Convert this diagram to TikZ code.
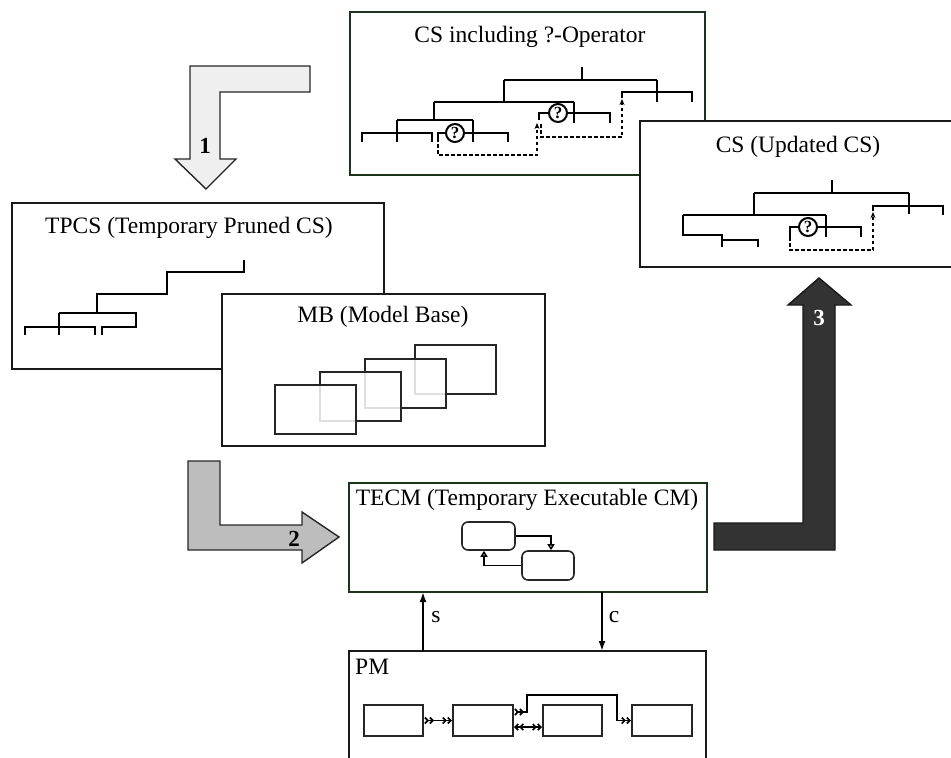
\documentclass[tikz,border=0pt]{standalone}
\usepackage{fontspec}
\setmainfont{Liberation Serif}
\usetikzlibrary{arrows.meta,calc}
\definecolor{dgreen}{RGB}{28,52,28}
\definecolor{arrlight}{RGB}{239,239,239}
\definecolor{arrmid}{RGB}{189,189,189}
\definecolor{arrdark}{RGB}{51,51,51}
\begin{document}
\begin{tikzpicture}[x=1pt,y=-1pt,
  box/.style={draw=black!90,line width=2.6pt,fill=white,anchor=north west,inner sep=0pt,outer sep=0pt},
  gbox/.style={box,draw=dgreen},
  title/.style={font=\fontsize{23.5}{27}\selectfont,inner sep=0pt},
  tree/.style={line width=2pt},
  dashline/.style={line width=1.4pt,dash pattern=on 3.5pt off 2.5pt,-{Stealth[length=6pt,width=5pt]}},
  qnode/.style={circle,draw,line width=2pt,fill=white,inner sep=0pt,minimum size=18pt,font=\fontsize{17}{17}\selectfont\bfseries},
  mbrect/.style={draw=black!85,line width=2pt,fill=white,fill opacity=0.85,anchor=north west,inner sep=0pt,minimum width=81pt,minimum height=49pt},
  rbox/.style={draw=black!85,line width=1.6pt,rounded corners=6pt,inner sep=0pt},
  opentri/.style={line width=1.5pt,-{Triangle[open,length=6pt,width=7pt]}},
  pbox/.style={draw=black!85,line width=2pt,inner sep=0pt,minimum height=31pt},
  revboth/.style={line width=1.7pt,{Straight Barb[length=3pt,width=6pt,reversed]Straight Barb[length=3pt,width=6pt,reversed]}-{Straight Barb[length=3pt,width=6pt]Straight Barb[length=3pt,width=6pt]}},
  outboth/.style={line width=1.7pt,{Straight Barb[length=3pt,width=6pt]Straight Barb[length=3pt,width=6pt]}-{Straight Barb[length=3pt,width=6pt]Straight Barb[length=3pt,width=6pt]}},
  sc/.style={line width=1.8pt,-{Latex[length=10pt,width=7pt]}},
  bigarrow/.style={draw=black!85,line width=1.4pt},
  num/.style={font=\fontsize{23}{27}\selectfont\bfseries,inner sep=0pt},
]
\useasboundingbox (0,0) rectangle (951,758);
\clip (0,0) rectangle (951,758);

% ---------- Box 1: CS including ?-Operator ----------
\node[gbox,minimum width=355pt,minimum height=163pt] (cs1) at (350,12) {};
\node[title] (cs1t) at (530,37) {CS including ?-Operator};
\draw[tree] (582,67)--(582,80);
\draw[tree] (504,80)--(657,80);
\draw[tree] (657,80)--(657,102);
\draw[tree] (622,98)--(622,92)--(692,92)--(692,102);
\draw[tree] (504,80)--(504,102);
\draw[tree] (434,102)--(574,102);
\draw[tree] (574,102)--(574,123);
\draw[tree] (539,120)--(539,113)--(610,113)--(610,123);
\node[qnode] (q1) at (558,113) {?};
\draw[tree] (434,102)--(434,120);
\draw[tree] (397,120)--(473,120);
\draw[tree] (397,120)--(397,142);
\draw[tree] (362,142)--(362,133)--(432,133)--(432,142);
\draw[tree] (473,120)--(473,142);
\draw[tree] (438,138)--(438,133)--(508,133)--(508,142);
\node[qnode] (q2) at (455,133) {?};
\draw[dashline] (438,138)--(438,155)--(537,155)--(537,123);
\draw[dashline] (541,124)--(541,137)--(622,137)--(622,99);

% ---------- Box 2: CS (Updated CS) ----------
\node[box,minimum width=325pt,minimum height=146pt] (cs2) at (640,121) {};
\node[title] (cs2t) at (798,147) {CS (Updated CS)};
\draw[tree] (832,180)--(832,193);
\draw[tree] (754,193)--(909,193);
\draw[tree] (909,193)--(909,214);
\draw[tree] (873,211)--(873,206)--(943,206)--(943,215);
\draw[tree] (754,193)--(754,215);
\draw[tree] (683,215)--(826,215);
\draw[tree] (826,215)--(826,237);
\draw[tree] (790,237)--(790,227)--(861,227)--(861,237);
\node[qnode] (q3) at (808,227) {?};
\draw[tree] (683,215)--(683,235)--(722,235)--(722,247);
\draw[tree] (722,240)--(758,240)--(758,247);
\draw[dashline] (790,237)--(790,250)--(873,250)--(873,212);

% ---------- TPCS ----------
\node[box,minimum width=372pt,minimum height=166pt] (tpcs) at (12,203) {};
\node[title] (tpcst) at (189,228) {TPCS (Temporary Pruned CS)};
\draw[tree] (244,260)--(244,272)--(167,272)--(167,294)--(97,294)--(97,313);
\draw[tree] (59,313)--(136,313)--(136,327)--(102,327)--(102,335);
\draw[tree] (59,313)--(59,335);
\draw[tree] (25,335)--(25,327)--(95,327)--(95,335);

% ---------- MB ----------
\node[box,minimum width=323pt,minimum height=152pt] (mb) at (222,294) {};
\node[title] (mbt) at (383,317) {MB (Model Base)};
\node[mbrect] (m4) at (414,344) {};
\node[mbrect] (m3) at (364,358) {};
\node[mbrect] (m2) at (319,371) {};
\node[mbrect] (m1) at (274,384) {};

% ---------- TECM ----------
\node[gbox,minimum width=358pt,minimum height=109pt] (tecm) at (349,483) {};
\node[title] (tecmt) at (527,500) {TECM (Temporary Executable CM)};
\node[rbox,minimum width=53pt,minimum height=28pt] (ra) at (488.5,536) {};
\node[rbox,minimum width=52pt,minimum height=29pt] (rb) at (548,565.5) {};
\draw[opentri] (ra.east) -| ([xshift=3pt]rb.north);
\draw[opentri] (rb.west) -| ([xshift=-4.5pt]ra.south);

% ---------- PM ----------
\node[box,minimum width=357pt,minimum height=140pt] (pm) at (349,651) {};
\node[title,anchor=west] (pmt) at (355,667) {PM};
\node[pbox,minimum width=59pt] (p1) at (393.5,720.5) {};
\node[pbox,minimum width=60pt] (p2) at (483,720.5) {};
\node[pbox,minimum width=59pt] (p3) at (572.5,720.5) {};
\node[pbox,minimum width=60pt] (p4) at (662,720.5) {};
\draw[revboth] (p1.east) -- (p2.west);
\draw[outboth] ([yshift=-6.5pt]p2.east) -- ([yshift=-6.5pt]p3.west);
\coordinate (k1) at (527,712);
\coordinate (k2) at (617,695);
\draw[revboth] ([yshift=8.5pt]p2.east) -- (k1) -- (k1 |- k2) -- (k2) -- (k2 |- p4.west) -- (p4.west);

% s / c connectors
\coordinate (sx) at (423,0);
\coordinate (cx) at (602,0);
\draw[sc] (sx |- pm.north) -- (sx |- tecm.south);
\draw[sc] (cx |- tecm.south) -- (cx |- pm.north);
\node[title] (slab) at (436,617) {s};
\node[title] (clab) at (614,617) {c};

% ---------- Big arrows ----------
\draw[bigarrow,fill=arrlight] (190,66)--(310,66)--(310,92)--(220,92)--(220,159)--(236,159)--(206,189)--(175,159)--(190,159)--cycle;
\node[num] (n1) at (205,146) {1};
\draw[bigarrow,fill=arrmid] (188,461)--(220,461)--(220,525)--(302,525)--(302,512)--(339,537)--(302,563)--(302,550)--(188,550)--cycle;
\node[num] (n2) at (294,539) {2};
\draw[bigarrow,fill=arrdark,draw=black!90] (714,523)--(803,523)--(803,305)--(788,305)--(819,278)--(851,305)--(835,305)--(835,550)--(714,550)--cycle;
\node[num,text=white] (n3) at (819,318) {3};
\end{tikzpicture}
\end{document}
